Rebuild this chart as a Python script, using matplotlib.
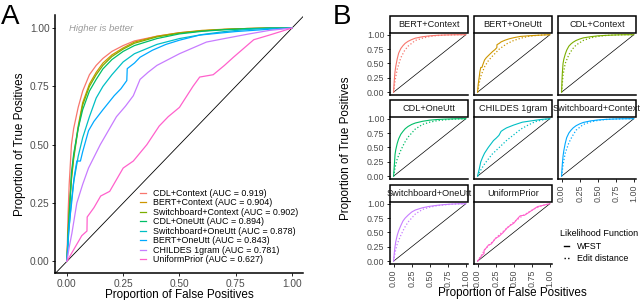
import matplotlib
matplotlib.use("Agg")
import matplotlib.pyplot as plt
from matplotlib.lines import Line2D
from matplotlib.patches import Rectangle

# ---- data ----
models = ["CDL+Context", "BERT+Context", "Switchboard+Context", "CDL+OneUtt",
          "Switchboard+OneUtt", "BERT+OneUtt", "CHILDES 1gram", "UniformPrior"]
auc = [0.919, 0.904, 0.902, 0.894, 0.878, 0.843, 0.781, 0.627]
palette = ["#F8766D", "#CD9600", "#7CAE00", "#00BE67",
           "#00BFC4", "#00A9FF", "#C77CFF", "#FF61CC"]

grid_fpr = [0, 0.005, 0.01, 0.02, 0.03, 0.05, 0.07, 0.1, 0.13, 0.16,
            0.2, 0.25, 0.3, 0.4, 0.5, 0.6, 0.7, 0.8, 0.9, 1.0]
tpr_cdl_ctx = [0, 0.2, 0.33, 0.5, 0.57, 0.66, 0.73, 0.8, 0.84, 0.87,
               0.9, 0.925, 0.945, 0.965, 0.98, 0.988, 0.994, 0.998, 1.0, 1.0]
tpr_bert_ctx = [0, 0.12, 0.22, 0.36, 0.45, 0.58, 0.68, 0.76, 0.81, 0.85,
                0.885, 0.915, 0.94, 0.965, 0.98, 0.99, 0.995, 0.998, 1.0, 1.0]
tpr_swb_ctx = [0, 0.12, 0.21, 0.35, 0.44, 0.57, 0.67, 0.75, 0.8, 0.84,
               0.878, 0.91, 0.935, 0.962, 0.978, 0.988, 0.994, 0.998, 1.0, 1.0]
tpr_cdl_one = [0, 0.1, 0.19, 0.38, 0.46, 0.57, 0.65, 0.73, 0.78, 0.825,
               0.865, 0.9, 0.925, 0.955, 0.975, 0.986, 0.993, 0.997, 1.0, 1.0]
tpr_swb_one = [0, 0.08, 0.15, 0.26, 0.34, 0.45, 0.53, 0.62, 0.7, 0.75,
               0.8, 0.855, 0.89, 0.93, 0.955, 0.972, 0.985, 0.994, 0.999, 1.0]

fpr_bert_one = [0, 0.007, 0.015, 0.022, 0.032, 0.044, 0.06, 0.07, 0.096, 0.12,
                0.16, 0.21, 0.24, 0.266, 0.268, 0.3, 0.325, 0.38, 0.44, 0.5,
                0.59, 0.75, 0.9, 1.0]
tpr_bert_one = [0, 0.12, 0.2, 0.26, 0.36, 0.43, 0.43, 0.47, 0.56, 0.6,
                0.65, 0.71, 0.74, 0.775, 0.826, 0.85, 0.875, 0.905, 0.93, 0.948,
                0.97, 0.985, 0.995, 1.0]
fpr_childes = [0, 0.01, 0.022, 0.044, 0.07, 0.096, 0.148, 0.22, 0.26, 0.295,
               0.325, 0.36, 0.4, 0.5, 0.62, 0.7, 0.81, 0.9, 1.0]
tpr_childes = [0, 0.06, 0.12, 0.25, 0.33, 0.4, 0.5, 0.62, 0.665, 0.71,
               0.78, 0.81, 0.84, 0.89, 0.94, 0.955, 0.975, 0.99, 1.0]
fpr_uniform = [0, 0.03, 0.066, 0.089, 0.09, 0.12, 0.15, 0.19, 0.22, 0.25,
               0.295, 0.355, 0.41, 0.45, 0.5, 0.56, 0.59, 0.65, 0.7, 0.74,
               0.83, 0.9, 1.0]
tpr_uniform = [0, 0.05, 0.11, 0.13, 0.19, 0.23, 0.28, 0.3, 0.35, 0.4,
               0.43, 0.5, 0.58, 0.62, 0.66, 0.75, 0.79, 0.8, 0.84, 0.875,
               0.95, 0.97, 1.0]

wfst = {
    "CDL+Context": (grid_fpr, tpr_cdl_ctx),
    "BERT+Context": (grid_fpr, tpr_bert_ctx),
    "Switchboard+Context": (grid_fpr, tpr_swb_ctx),
    "CDL+OneUtt": (grid_fpr, tpr_cdl_one),
    "Switchboard+OneUtt": (grid_fpr, tpr_swb_one),
    "BERT+OneUtt": (fpr_bert_one, tpr_bert_one),
    "CHILDES 1gram": (fpr_childes, tpr_childes),
    "UniformPrior": (fpr_uniform, tpr_uniform),
}

# edit distance curves (panel B, dotted)
ed_fpr = [0, 0.02, 0.05, 0.1, 0.15, 0.2, 0.3, 0.4, 0.5, 0.6, 0.7, 0.8, 0.9, 1.0]
edit = {
    "BERT+Context": [0, 0.2, 0.4, 0.6, 0.72, 0.8, 0.9, 0.94, 0.97, 0.985, 0.993, 0.997, 1, 1],
    "BERT+OneUtt": [0, 0.15, 0.3, 0.45, 0.55, 0.62, 0.75, 0.84, 0.9, 0.94, 0.97, 0.985, 0.995, 1],
    "CDL+Context": [0, 0.3, 0.5, 0.65, 0.75, 0.82, 0.9, 0.945, 0.97, 0.985, 0.993, 0.997, 1, 1],
    "CDL+OneUtt": [0, 0.15, 0.3, 0.45, 0.58, 0.68, 0.82, 0.9, 0.94, 0.965, 0.98, 0.99, 0.997, 1],
    "CHILDES 1gram": [0, 0.05, 0.12, 0.22, 0.3, 0.38, 0.5, 0.62, 0.72, 0.82, 0.89, 0.95, 0.98, 1],
    "Switchboard+Context": [0, 0.2, 0.4, 0.58, 0.7, 0.8, 0.9, 0.945, 0.97, 0.985, 0.993, 0.997, 1, 1],
    "Switchboard+OneUtt": [0, 0.15, 0.3, 0.45, 0.58, 0.68, 0.82, 0.9, 0.94, 0.965, 0.98, 0.99, 0.997, 1],
    "UniformPrior": [0, 0.04, 0.1, 0.2, 0.27, 0.33, 0.46, 0.57, 0.68, 0.77, 0.85, 0.92, 0.97, 1],
}
facets = sorted(edit.keys())

ticks = [0, 0.25, 0.5, 0.75, 1.0]
tick_labels = ["0.00", "0.25", "0.50", "0.75", "1.00"]

plt.rcParams['font.family'] = ['Liberation Sans', 'DejaVu Sans']
W, H = 640, 300
fig = plt.figure(figsize=(6.4, 3.0), dpi=100)


def rect(x0, y0, x1, y1):
    # pixel box (top-left origin) -> figure fraction
    return [x0 / W, 1 - y1 / H, (x1 - x0) / W, (y1 - y0) / H]


def style(ax, size=7.3):
    for s in ["top", "right"]:
        ax.spines[s].set_visible(False)
    for s in ["left", "bottom"]:
        ax.spines[s].set_linewidth(1.1)
    ax.tick_params(length=2.5, width=0.6, colors="black", labelcolor="#4D4D4D",
                   labelsize=size, pad=1.5)


# ---- panel A ----
axA = fig.add_axes(rect(55, 15, 303, 273))
style(axA)
axA.set_xlim(-0.053, 1.049)
axA.set_ylim(-0.05, 1.056)
axA.axline((0, 0), (1, 1), color="black", lw=0.6)
for m, c, a in zip(models, palette, auc):
    x, y = wfst[m]
    axA.plot(x, y, color=c, lw=0.9, label=f"{m} (AUC = {a:.3f})")
axA.set_xticks(ticks, tick_labels)
axA.set_yticks(ticks, tick_labels)
axA.set_xlabel("Proportion of False Positives", fontsize=8.4, labelpad=0.5)
axA.set_ylabel("Proportion of True Positives", fontsize=8.4, labelpad=3)
axA.text(0.01, 1.0, "Higher is better", color="#9A9A9A", style="italic",
         fontsize=6.8, va="center", ha="left")
axA.legend(loc="upper left", bbox_to_anchor=(140 / W, 1 - 189 / H),
           bbox_transform=fig.transFigure, frameon=False, fontsize=6.4,
           handlelength=0.7, handletextpad=0.8, labelspacing=0.05,
           borderpad=0, borderaxespad=0)
fig.text(1 / W, 1 - 4 / H, "A", fontsize=20, fontweight="light", va="top", ha="left")

# ---- panel B ----
col_x = [390, 474, 558]
row_y = [33, 117, 202]
pw, ph, sh = 78, 62, 17
for i, f in enumerate(facets):
    r, c = divmod(i, 3)
    x0, y0 = col_x[c], row_y[r]
    ax = fig.add_axes(rect(x0, y0, x0 + pw, y0 + ph))
    style(ax, 6.4)
    ax.set_xlim(-0.05, 1.03)
    ax.set_ylim(-0.05, 1.03)
    ax.plot([0, 1], [0, 1], color="black", lw=0.5)
    col = palette[i]
    x, y = wfst[f]
    ax.plot(x, y, color=col, lw=0.8)
    ax.plot(ed_fpr, edit[f], color=col, lw=0.9, ls=(0, (1, 1.6)))
    ax.set_xticks(ticks)
    ax.set_yticks(ticks)
    if c == 0:
        ax.set_yticklabels(tick_labels)
    else:
        ax.tick_params(axis="y", left=False, labelleft=False)
    below = i + 3
    if below >= len(facets):
        ax.set_xticklabels(tick_labels, rotation=90)
    else:
        ax.tick_params(axis="x", bottom=False, labelbottom=False)
    # strip
    sax = fig.add_axes(rect(x0, y0 - sh, x0 + pw, y0))
    sax.set_axis_off()
    sax.add_patch(Rectangle((0, 0), 1, 1, transform=sax.transAxes, fill=False,
                            ec="black", lw=1.1, clip_on=False))
    sax.text(0.5, 0.5, f, ha="center", va="center", fontsize=6.6,
             color="#1A1A1A", transform=sax.transAxes)

fig.text(346 / W, 1 - 148 / H, "Proportion of True Positives", rotation=90,
         ha="center", va="center", fontsize=8.4)
fig.text(512 / W, 1 - 293 / H, "Proportion of False Positives",
         ha="center", va="center", fontsize=8.4)
fig.text(333 / W, 1 - 4 / H, "B", fontsize=20, fontweight="light", va="top", ha="left")

fig.text(560 / W, 1 - 234 / H, "Likelihood Function", fontsize=6.5,
         ha="left", va="center")
handles = [Line2D([], [], color="black", lw=1.0),
           Line2D([], [], color="black", lw=1.0, ls=(0, (1, 1.6)))]
fig.legend(handles, ["WFST", "Edit distance"],
           loc="upper left", bbox_to_anchor=(564 / W, 1 - 242 / H),
           frameon=False, fontsize=6.4, handlelength=0.6,
           handletextpad=0.9, labelspacing=0.35,
           borderpad=0, borderaxespad=0)

fig.savefig("out.png", dpi=100)
